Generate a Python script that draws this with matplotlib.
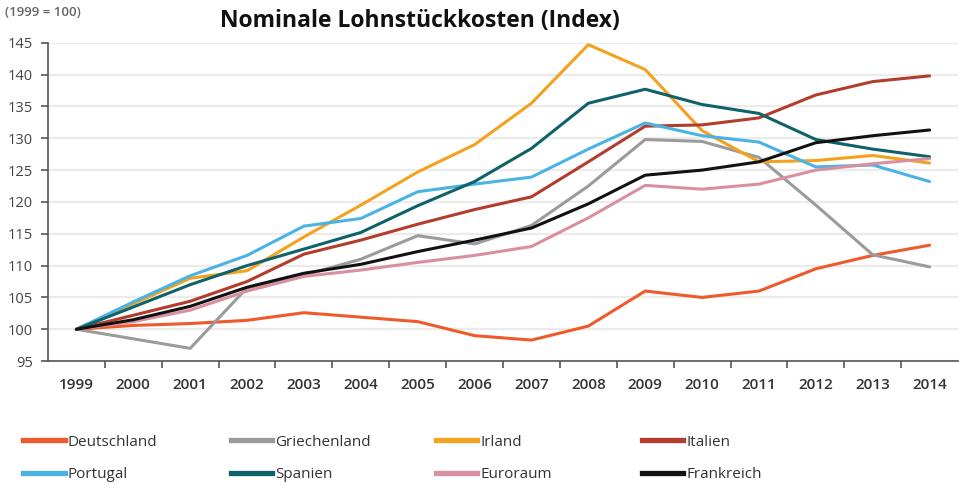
import matplotlib
matplotlib.use('Agg')
import matplotlib.pyplot as plt
from matplotlib.lines import Line2D

plt.rcParams['font.family'] = ['Open Sans', 'DejaVu Sans']

years = list(range(1999, 2015))
deutschland = [100, 100.6, 100.9, 101.4, 102.6, 101.9, 101.2, 99.0, 98.3, 100.5, 106.0, 105.0, 106.0, 109.5, 111.6, 113.2]
griechenland = [100, 98.5, 97.0, 106.5, 108.5, 111.0, 114.7, 113.4, 116.3, 122.5, 129.8, 129.5, 127.0, 119.5, 111.7, 109.8]
irland = [100, 104.0, 108.0, 109.2, 114.5, 119.5, 124.7, 129.0, 135.5, 144.7, 140.8, 131.2, 126.3, 126.5, 127.3, 126.1]
italien = [100, 102.2, 104.4, 107.5, 111.8, 114.0, 116.5, 118.8, 120.8, 126.3, 131.9, 132.1, 133.2, 136.8, 138.9, 139.8]
portugal = [100, 104.3, 108.4, 111.6, 116.2, 117.4, 121.6, 122.8, 123.9, 128.3, 132.4, 130.4, 129.4, 125.5, 125.8, 123.2]
spanien = [100, 103.5, 107.0, 110.0, 112.6, 115.2, 119.4, 123.2, 128.4, 135.5, 137.7, 135.3, 133.9, 129.8, 128.3, 127.1]
euroraum = [100, 101.2, 103.0, 106.0, 108.3, 109.3, 110.5, 111.6, 113.0, 117.5, 122.6, 122.0, 122.8, 125.0, 126.0, 126.8]
frankreich = [100, 101.5, 103.6, 106.6, 108.8, 110.2, 112.2, 114.0, 115.9, 119.7, 124.2, 125.0, 126.3, 129.3, 130.4, 131.3]

# Reihenfolge im Plot (Frankreich zuletzt, oben)
series = [
    ('Deutschland', deutschland, '#ef5a2a'),
    ('Griechenland', griechenland, '#9b9b9b'),
    ('Irland', irland, '#f4a21e'),
    ('Italien', italien, '#b23d2c'),
    ('Portugal', portugal, '#4ab3e4'),
    ('Spanien', spanien, '#10626a'),
    ('Euroraum', euroraum, '#d98fa0'),
    ('Frankreich', frankreich, '#111111'),
]

fig = plt.figure(figsize=(9.59, 4.86), dpi=100)
ax = fig.add_axes([0.05, 0.257, 0.949, 0.655])

x = list(range(len(years)))
handles = {}
for name, vals, col in series:
    ln, = ax.plot(x, vals, color=col, linewidth=2.2, label=name, solid_capstyle='round')
    handles[name] = ln

ax.set_xlim(-0.5, len(years) - 0.5)
ax.set_ylim(95, 145)
ax.set_yticks(range(95, 146, 5))
ax.set_xticks(x)
ax.set_xticklabels([str(y) for y in years])
ax.set_xticks([i + 0.5 for i in x[:-1]], minor=True)

ax.grid(True, axis='y', color='#ebebeb', linewidth=1.6)
ax.set_axisbelow(True)
for s in ['top', 'right']:
    ax.spines[s].set_visible(False)
for s in ['left', 'bottom']:
    ax.spines[s].set_color('#555555')
    ax.spines[s].set_linewidth(1.2)

ax.tick_params(axis='y', length=5, width=1.2, color='#555555', labelsize=10.5, labelcolor='#444444', pad=6)
ax.tick_params(axis='x', which='major', length=0, labelsize=11, labelcolor='#333333', pad=12)
ax.tick_params(axis='x', which='minor', length=5, width=1.2, color='#555555')
for lbl in ax.get_xticklabels():
    lbl.set_fontweight('semibold')

fig.text(0.438, 0.957, 'Nominale Lohnstückkosten (Index)', ha='center', va='center',
         fontsize=16.5, fontweight='bold', color='#111111')
fig.text(0.005, 0.974, '(1999 = 100)', ha='left', va='center', fontsize=9.5,
         fontweight='semibold', color='#666666')

# Legende: 4 Spalten, 2 Zeilen
columns = [('Deutschland', 'Portugal'), ('Griechenland', 'Spanien'),
           ('Irland', 'Euroraum'), ('Italien', 'Frankreich')]
col_x = [0.018, 0.234, 0.448, 0.663]
for cx, names in zip(col_x, columns):
    hs = [Line2D([], [], color=handles[n].get_color(), linewidth=3.8) for n in names]
    fig.legend(hs, names, loc='upper left', bbox_to_anchor=(cx, 0.118), frameon=False,
               fontsize=11, handlelength=2.7, handletextpad=0.2, labelspacing=1.15,
               borderaxespad=0, labelcolor='#333333')

fig.savefig('out.png', dpi=100)
